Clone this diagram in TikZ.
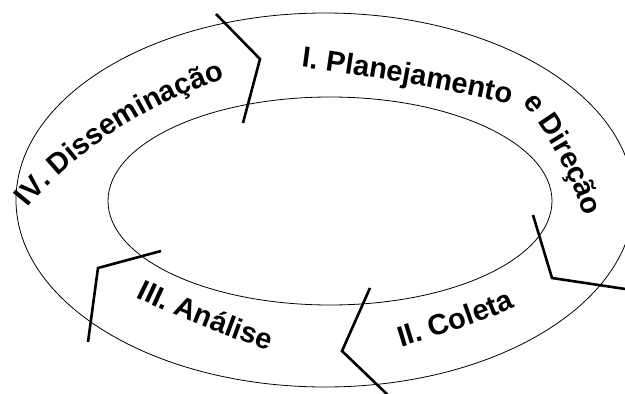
\documentclass[tikz,border=0pt]{standalone}
\usepackage{fontspec}
\setmainfont{Liberation Sans}
\usetikzlibrary{decorations.text}
\newcommand{\phase}{\fontsize{29}{32}\selectfont\bfseries}

\begin{document}
\begin{tikzpicture}[x=1pt, y=-1pt, ring/.style={line width=0.8pt}, cut/.style={line width=2.6pt, line join=miter}, ringtext/.style={decorate, decoration={text along path, text align=left, text={|\phase|#1}}}]
         \useasboundingbox (0,0) rectangle (625,394);
         \clip (0,0) rectangle (625,394);
         \coordinate (outer) at (325,200);
         \coordinate (inner) at (330,201);
         \draw[ring] (outer) ellipse [x radius=309pt, y radius=187pt];
         \draw[ring] (inner) ellipse [x radius=222pt, y radius=104pt];
         \draw[cut] (216,14) -- (260,59) -- (243,123);
         \draw[cut] (533,215) -- (552,278) -- (632,290);
         \draw[cut] (370,288) -- (342,351) -- (392,399);
         \draw[cut] (161,251) -- (98,268) -- (88,342);
         \path[ringtext={I. Planejamento}] (301,67) .. controls (370,76) and (440,89) .. (510,104) -- (545,113);
         \path[ringtext={e Direção}] (522,103) .. controls (545,130) and (570,170) .. (584,216) -- (592,250);
         \path[ringtext={IV. Disseminação}] (28,208) .. controls (76,148) and (156,101) .. (226,78) -- (260,69);
         \path[ringtext={III. Análise}] (136,297) .. controls (176,317) and (231,338) .. (274,352) -- (305,359);
         \path[ringtext={II. Coleta}] (401,347) .. controls (440,335) and (485,322) .. (521,304) -- (550,290);
\end{tikzpicture}
\end{document}
